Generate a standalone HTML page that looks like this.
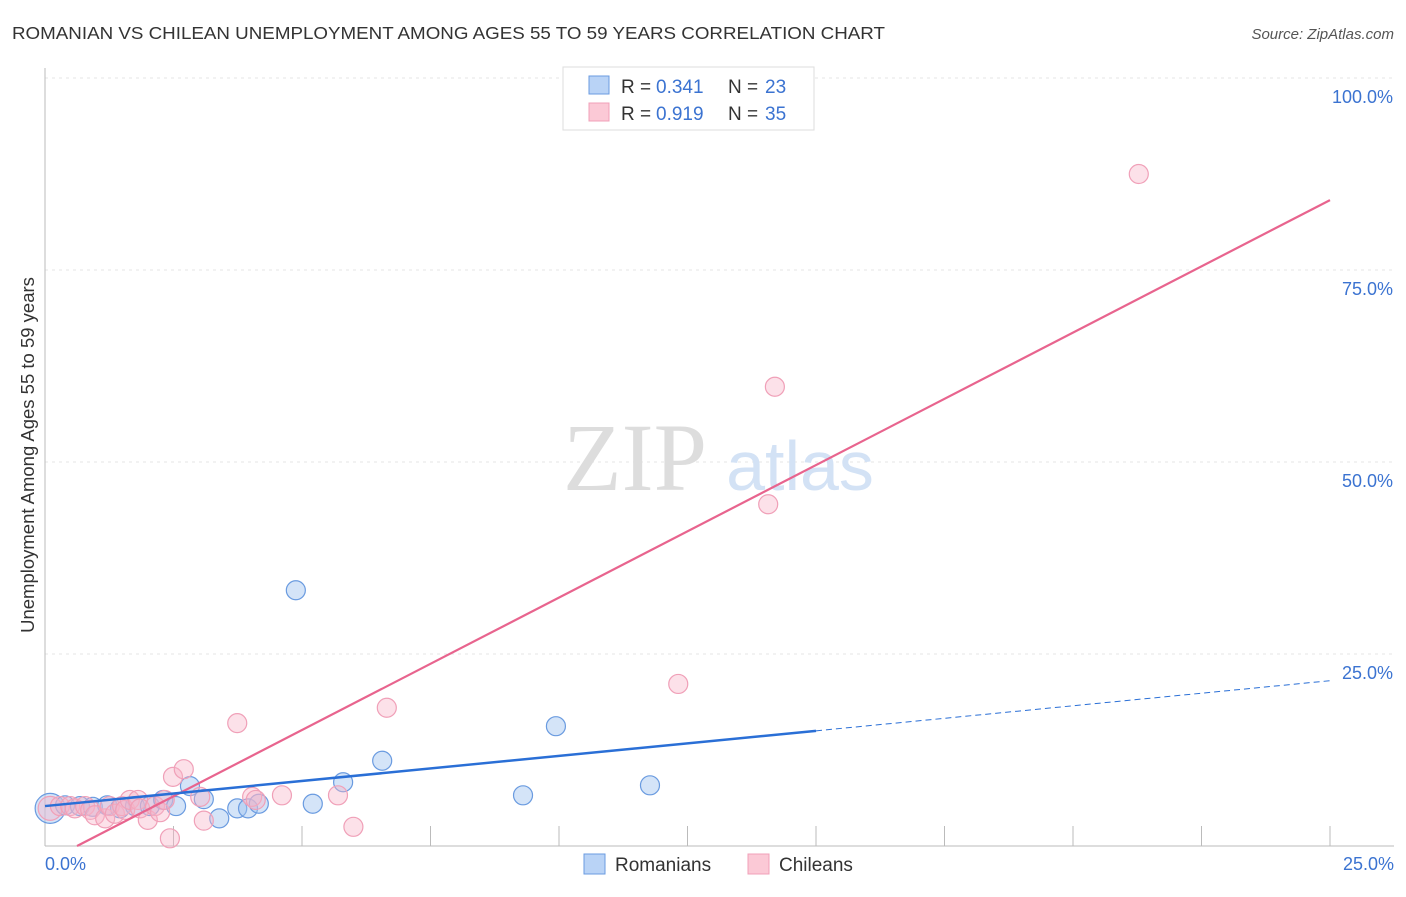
<!DOCTYPE html>
<html><head><meta charset="utf-8"><style>
body{margin:0;background:#fff;font-family:"Liberation Sans",sans-serif}
</style></head><body>
<svg width="1406" height="892" viewBox="0 0 1406 892">
<text x="12" y="39" font-size="17.5" fill="#333" textLength="873" lengthAdjust="spacingAndGlyphs">ROMANIAN VS CHILEAN UNEMPLOYMENT AMONG AGES 55 TO 59 YEARS CORRELATION CHART</text>
<text x="1394" y="39" font-size="15" fill="#555" font-style="italic" text-anchor="end">Source: ZipAtlas.com</text>
<g id="grid"></g>
<text x="635" y="490" font-size="96" fill="#ddd" font-family="Liberation Serif,serif" text-anchor="middle">ZIP</text>
<text x="800" y="490" font-size="70" fill="#d3e2f5" text-anchor="middle">atlas</text>
<text transform="translate(34,455) rotate(-90)" font-size="18.5" fill="#333" text-anchor="middle">Unemployment Among Ages 55 to 59 years</text>
<g id="marks"></g>
<g>
<rect x="563" y="67" width="251" height="63" fill="#fff" stroke="#ddd"/>
<rect x="589" y="76" width="20" height="18" fill="#b9d3f6" stroke="#6a9be0"/>
<text x="621" y="93" font-size="19" fill="#333">R =</text><text x="656" y="93" font-size="19" fill="#3b73d1">0.341</text>
<text x="728" y="93" font-size="19" fill="#333">N =</text><text x="765" y="93" font-size="19" fill="#3b73d1">23</text>
<rect x="589" y="103" width="20" height="18" fill="#fbc9d6" stroke="#f0a0b8"/>
<text x="621" y="120" font-size="19" fill="#333">R =</text><text x="656" y="120" font-size="19" fill="#3b73d1">0.919</text>
<text x="728" y="120" font-size="19" fill="#333">N =</text><text x="765" y="120" font-size="19" fill="#3b73d1">35</text>
</g>
<g>
<rect x="584" y="854" width="21" height="20" fill="#b9d3f6" stroke="#6a9be0"/>
<text x="615" y="871" font-size="19" fill="#333">Romanians</text>
<rect x="748" y="854" width="21" height="20" fill="#fbc9d6" stroke="#f0a0b8"/>
<text x="779" y="871" font-size="19" fill="#333">Chileans</text>
</g>
</svg>
<script>
const yTicks=[25,50,75,100];
const yTickLabels=["25.0%","50.0%","75.0%","100.0%"];
const xTicks=[0,2.5,5,7.5,10,12.5,15,17.5,20,22.5,25];
const romX=[0.10,0.39,0.68,0.93,1.21,1.46,1.75,2.04,2.30,2.55,2.82,3.09,3.39,3.74,3.95,4.16,4.88,5.21,5.80,6.56,9.30,9.94,11.77];
const romY=[4.9,5.3,5.2,5.1,5.3,4.9,5.2,5.2,6.0,5.2,7.8,6.1,3.6,4.9,4.9,5.5,33.3,5.5,8.3,11.1,6.6,15.6,7.9];
const chiX=[0.10,0.29,0.49,0.58,0.78,0.88,0.97,1.17,1.26,1.36,1.50,1.56,1.65,1.81,1.85,2.00,2.14,2.24,2.33,2.43,2.49,2.70,3.02,3.09,3.74,4.03,4.10,4.61,5.70,6.00,6.65,12.32,14.07,14.20,21.28];
const chiY=[4.9,5.2,5.2,4.9,5.2,4.7,4.0,3.6,5.2,4.2,5.2,4.7,6.0,6.0,4.9,3.4,5.2,4.4,6.0,1.0,9.0,10.0,6.4,3.3,16.0,6.4,6.0,6.6,6.6,2.5,18.0,21.1,44.5,59.8,87.5];
const romFit=[5.2,0.653];
const chiFit=[-2.15,3.45];
const NS="http://www.w3.org/2000/svg";
const X=v=>45+v*51.4, Y=v=>846-v*7.68;
function mk(tag,at,parent){const e=document.createElementNS(NS,tag);for(const k in at)e.setAttribute(k,at[k]);parent.appendChild(e);return e;}
const g=document.getElementById('grid'), m=document.getElementById('marks');
yTicks.forEach((t,i)=>{
 const l=mk('line',{x1:45,x2:1394,y1:Y(t),y2:Y(t),stroke:'#e6e6e6','stroke-dasharray':'3,4'},g);
 
 
 const tx=mk('text',{x:1393,y:Y(t)+25,'font-size':18,fill:'#3b73d1','text-anchor':'end'},g);
 tx.textContent=yTickLabels[i];
 
 
});
const ax=mk('line',{x1:45,x2:1394,y1:846,y2:846,stroke:'#bbb'},g);


const ay=mk('line',{x1:45,x2:45,y1:68,y2:846,stroke:'#bbb'},g);


xTicks.forEach(t=>{
 const l=mk('line',{x1:X(t),x2:X(t),y1:826,y2:846,stroke:'#bbb'},g);
 
 
});
const xl0=mk('text',{x:45,y:870,'font-size':18,fill:'#3b73d1'},g);xl0.textContent='0.0%';


const xl1=mk('text',{x:1394,y:870,'font-size':18,fill:'#3b73d1','text-anchor':'end'},g);xl1.textContent='25.0%';


romX.forEach((x,i)=>{
 const c=mk('circle',{cx:X(x),cy:Y(romY[i]),r:i==0?15:9.5,fill:'rgba(160,196,240,0.45)',stroke:'#6a9be0','stroke-width':1.2},m);
 
 
});
chiX.forEach((x,i)=>{
 const c=mk('circle',{cx:X(x),cy:Y(chiY[i]),r:i==0?12:9.5,fill:'rgba(248,180,200,0.4)',stroke:'#f0a0b8','stroke-width':1.2},m);
 
 
});
const cx0=-chiFit[0]/chiFit[1];
const pl=mk('line',{x1:X(cx0),y1:Y(0),x2:X(25),y2:Y(chiFit[0]+chiFit[1]*25),stroke:'#e8648e','stroke-width':2.2},m);


const bl=mk('line',{x1:X(0),y1:Y(romFit[0]),x2:X(15),y2:Y(romFit[0]+romFit[1]*15),stroke:'#2a6fd6','stroke-width':2.5},m);


const bd=mk('line',{x1:X(15),y1:Y(romFit[0]+romFit[1]*15),x2:X(25),y2:Y(romFit[0]+romFit[1]*25),stroke:'#2a6fd6','stroke-width':1,'stroke-dasharray':'6,4'},m);


</script>
</body></html>
